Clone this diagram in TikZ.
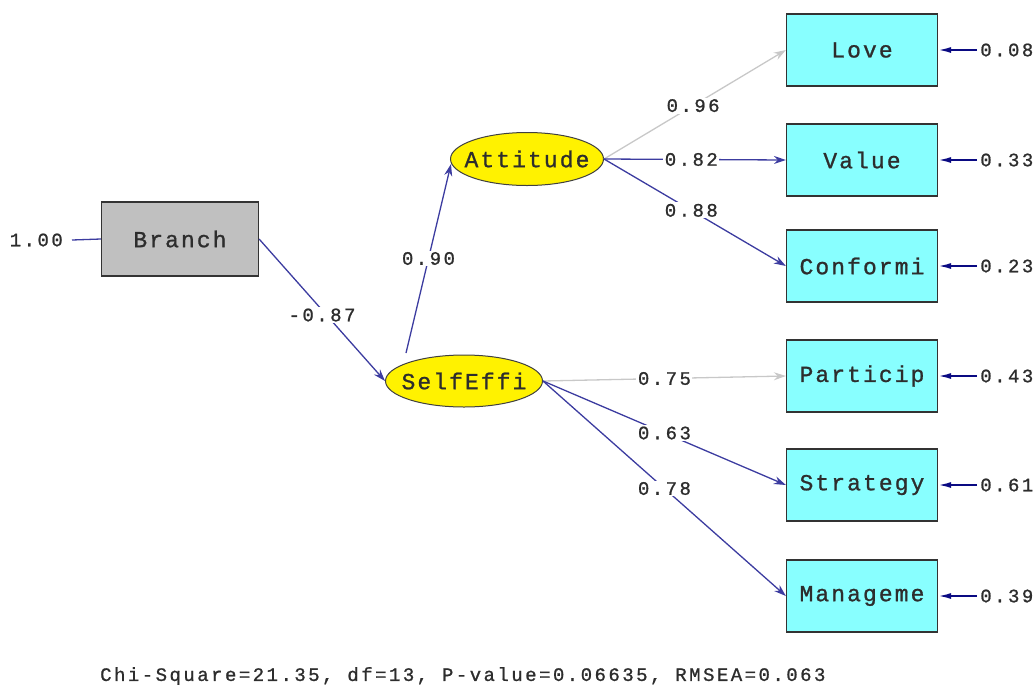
\documentclass[tikz,border=0pt]{standalone}
\usepackage{fontspec}
\setmonofont{Liberation Mono}
\newfontfamily\lisfont[LetterSpace=13,FakeBold=1]{Liberation Mono}
\newfontfamily\boxfont[LetterSpace=9,FakeBold=1]{Liberation Mono}
\usetikzlibrary{arrows.meta,shapes.geometric}
\definecolor{pathblue}{RGB}{60,60,160}
\definecolor{errblue}{RGB}{10,10,130}
\definecolor{lightpath}{RGB}{200,200,200}
\definecolor{boxcyan}{RGB}{136,255,255}
\definecolor{boxgray}{RGB}{192,192,192}
\definecolor{txt}{RGB}{45,45,45}
\newcommand{\zw}[1]{\makebox[0pt]{#1}}
\tikzset{
  obs/.style={draw=black!80, line width=1.2pt, fill=boxcyan, minimum width=151pt, minimum height=72pt, inner sep=0pt, font=\boxfont\fontsize{23}{23}\selectfont, text=txt},
  lat/.style={ellipse, draw=black!75, line width=1pt, fill=yellow, inner sep=0pt, font=\boxfont\fontsize{23}{23}\selectfont, text=txt},
  lab/.style={fill=white, inner sep=1.5pt, font=\lisfont\fontsize{19}{19}\selectfont, text=txt},
  spath/.style={draw=pathblue, line width=1.3pt, -{Stealth[length=12pt,width=8pt]}},
  lpath/.style={draw=lightpath, line width=1.3pt, -{Stealth[length=12pt,width=8pt]}},
  err/.style={draw=errblue, line width=1.8pt, -{Latex[length=13pt,width=6pt]}},
  errlab/.style={anchor=west, inner sep=0pt, font=\lisfont\fontsize{19}{19}\selectfont, text=txt},
}
\begin{document}
\begin{tikzpicture}[x=1pt,y=-1pt]
\useasboundingbox (0,0) rectangle (1034,689);
% nodes
\node[obs, fill=boxgray, minimum width=157pt, minimum height=74pt] (branch) at (180,239) {Branch};
\node[lat, minimum width=153pt, minimum height=53pt] (att) at (527,159) {\zw{Attitude}};
\node[lat, minimum width=157pt, minimum height=52pt] (self) at (464,381) {\zw{SelfEffi}};
\node[obs] (love) at (862,50) {Love};
\node[obs] (value) at (862,160) {Value};
\node[obs] (conf) at (862,266) {Conformi};
\node[obs] (part) at (862,376) {Particip};
\node[obs] (strat) at (862,485) {Strategy};
\node[obs] (manag) at (862,596) {Manageme};
% branch error
\node[errlab, anchor=east] (berr) at (63,240) {1.00};
\draw[draw=pathblue, line width=1.3pt] (berr.east) ++(9,0) coordinate (bs) -- (branch.west);
% structural paths
\draw[spath] (branch.east) -- node[lab, pos=0.5, yshift=-5pt] {-0.87} (self.west);
\draw[spath] ([shift={(-58,-28)}]self.center) -- node[lab, pos=0.5] {0.90} ([shift={(-76,5)}]att.center);
% attitude indicators
\draw[lpath] (att.east) -- node[lab, pos=0.49] {0.96} (love.west);
\draw[spath] (att.east) -- node[lab, pos=0.48] {0.82} (value.west);
\draw[spath] (att.east) -- node[lab, pos=0.48] {0.88} (conf.west);
% selfeffi indicators
\draw[lpath] (self.east) -- node[lab, pos=0.5] {0.75} (part.west);
\draw[spath] (self.east) -- node[lab, pos=0.5] {0.63} (strat.west);
\draw[spath] (self.east) -- node[lab, pos=0.5] {0.78} (manag.west);
% error terms
\foreach \n/\v in {love/0.08, value/0.33, conf/0.23, part/0.43, strat/0.61, manag/0.39}{
  \node[errlab] (e\n) at ([xshift=42pt]\n.east) {\v};
  \draw[err] (e\n.west) ++(-3,0) -- (\n.east);
}
% fit statistics
\node[anchor=west, inner sep=0pt, font=\lisfont\fontsize{19}{19}\selectfont, text=txt] (fit) at (100,676) {Chi-Square=21.35, df=13, P-value=0.06635, RMSEA=0.063};
\end{tikzpicture}
\end{document}
